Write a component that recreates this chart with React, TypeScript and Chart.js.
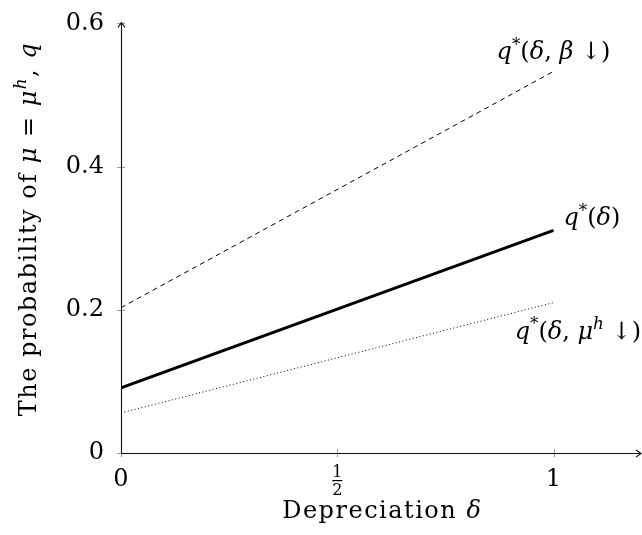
import React, { useEffect, useRef } from "react";
import { Chart, registerables } from "chart.js";
Chart.register(...registerables);

// ---- data ----
const deltaValues = [0, 1];
const qBetaDown = [0.203, 0.533];
const qBaseline = [0.091, 0.311];
const qMuDown = [0.056, 0.21];
const xTicks = [0, 0.5, 1];
const yTicks = [0, 0.2, 0.4, 0.6];
const yTickLabels = ["0", "0.2", "0.4", "0.6"];
const X_MAX = 1.2;
const Y_MAX = 0.6;

type Seg = { t: string; it?: boolean; sup?: boolean };
const labelBeta: Seg[] = [{ t: "q", it: true }, { t: "*", sup: true }, { t: "(" }, { t: "δ", it: true }, { t: ", " }, { t: "β", it: true }, { t: " ↓)" }];
const labelBase: Seg[] = [{ t: "q", it: true }, { t: "*", sup: true }, { t: "(" }, { t: "δ", it: true }, { t: ")" }];
const labelMu: Seg[] = [{ t: "q", it: true }, { t: "*", sup: true }, { t: "(" }, { t: "δ", it: true }, { t: ", " }, { t: "μ", it: true }, { t: "h", it: true, sup: true }, { t: " ↓)" }];
const xTitle: Seg[] = [{ t: "Depreciation " }, { t: "δ", it: true }];
const yTitle: Seg[] = [{ t: "The probability of " }, { t: "μ", it: true }, { t: " = " }, { t: "μ", it: true }, { t: "h", it: true, sup: true }, { t: ", " }, { t: "q", it: true }];

const FAMILY = '"DejaVu Serif", "Liberation Serif", serif';
const FS = 24;

function segFont(s: Seg, size: number) {
  const sz = s.sup ? size * 0.7 : size;
  return `${s.it ? "italic " : ""}${sz}px ${FAMILY}`;
}
function richWidth(ctx: CanvasRenderingContext2D, segs: Seg[], size: number) {
  let w = 0;
  for (const s of segs) {
    ctx.font = segFont(s, size);
    w += ctx.measureText(s.t).width;
  }
  return w;
}
function drawRich(ctx: CanvasRenderingContext2D, segs: Seg[], x: number, y: number, size: number, align: "left" | "center" | "right", spacing = 0) {
  (ctx as any).letterSpacing = `${spacing}px`;
  const w = richWidth(ctx, segs, size);
  let cx = align === "left" ? x : align === "center" ? x - w / 2 : x - w;
  ctx.textAlign = "left";
  ctx.textBaseline = "alphabetic";
  for (const s of segs) {
    ctx.font = segFont(s, size);
    ctx.fillText(s.t, cx, s.sup ? y - size * 0.4 : y);
    cx += ctx.measureText(s.t).width;
  }
  (ctx as any).letterSpacing = "0px";
}

const decorPlugin = {
  id: "decor",
  afterDraw(chart: any) {
    const { ctx, chartArea, scales } = chart;
    const { left, right, top, bottom } = chartArea;
    const x = scales.x, y = scales.y;
    ctx.save();
    // tick marks
    ctx.strokeStyle = "#9a9a9a";
    ctx.lineWidth = 1;
    for (const v of xTicks) {
      const px = Math.round(x.getPixelForValue(v)) + 0.5;
      ctx.beginPath(); ctx.moveTo(px, bottom - 4); ctx.lineTo(px, bottom + 4); ctx.stroke();
    }
    for (const v of yTicks) {
      const py = Math.round(y.getPixelForValue(v)) + 0.5;
      ctx.beginPath(); ctx.moveTo(left - 4, py); ctx.lineTo(left + 4, py); ctx.stroke();
    }
    // axes with arrows
    ctx.strokeStyle = "#111";
    ctx.lineWidth = 1.1;
    const ax = Math.round(left) + 0.5;
    const ay = Math.round(bottom) + 0.5;
    const yTip = top - 1;
    const xTip = right + 1;
    ctx.beginPath(); ctx.moveTo(ax, ay); ctx.lineTo(ax, yTip); ctx.stroke();
    ctx.beginPath(); ctx.moveTo(ax, ay); ctx.lineTo(xTip, ay); ctx.stroke();
    ctx.beginPath(); ctx.moveTo(ax - 3.5, yTip + 5); ctx.lineTo(ax, yTip); ctx.lineTo(ax + 3.5, yTip + 5); ctx.stroke();
    ctx.beginPath(); ctx.moveTo(xTip - 5, ay - 3.5); ctx.lineTo(xTip, ay); ctx.lineTo(xTip - 5, ay + 3.5); ctx.stroke();

    ctx.fillStyle = "#000";
    // fraction tick label 1/2
    const hx = x.getPixelForValue(0.5);
    ctx.font = `16px ${FAMILY}`;
    ctx.textAlign = "center";
    ctx.textBaseline = "alphabetic";
    ctx.fillText("1", hx, bottom + 24);
    ctx.fillRect(hx - 5, bottom + 27, 10, 1.2);
    ctx.fillText("2", hx, bottom + 42);

    // axis titles
    drawRich(ctx, xTitle, (x.getPixelForValue(0) + x.getPixelForValue(1)) / 2 + 45, bottom + 65, FS, "center", 1.5);
    ctx.save();
    ctx.translate(36, 229);
    ctx.rotate(-Math.PI / 2);
    drawRich(ctx, yTitle, 0, 0, FS, "center", 1.5);
    ctx.restore();

    // series labels
    const ex = x.getPixelForValue(deltaValues[1]);
    drawRich(ctx, labelBeta, ex, y.getPixelForValue(qBetaDown[1]) - 12, FS, "center");
    drawRich(ctx, labelBase, ex + 10, y.getPixelForValue(qBaseline[1]) - 5, FS, "left");
    drawRich(ctx, labelMu, 641, y.getPixelForValue(qMuDown[1]) + 36, FS, "right");
    ctx.restore();
  },
};

function toPts(ys: number[]) {
  return deltaValues.map((d, i) => ({ x: d, y: ys[i] }));
}

export default function App() {
  const ref = useRef<HTMLCanvasElement>(null);
  useEffect(() => {
    document.body.style.margin = "0";
    const chart = new Chart(ref.current!, {
      type: "line",
      data: {
        datasets: [
          { data: toPts(qBetaDown), borderColor: "#000", borderWidth: 1, borderDash: [5, 4], pointRadius: 0, fill: false },
          { data: toPts(qBaseline), borderColor: "#000", borderWidth: 2.8, pointRadius: 0, fill: false },
          { data: toPts(qMuDown), borderColor: "#000", borderWidth: 1, borderDash: [1, 2.5], pointRadius: 0, fill: false },
        ],
      },
      options: {
        responsive: false,
        animation: false,
        layout: { padding: { top: 22, right: 2, left: 0, bottom: 0 } },
        plugins: { legend: { display: false }, tooltip: { enabled: false } },
        scales: {
          x: {
            type: "linear",
            min: 0,
            max: X_MAX,
            grid: { display: false },
            border: { display: false },
            afterBuildTicks: (s: any) => { s.ticks = xTicks.map((v) => ({ value: v })); },
            afterFit: (s: any) => { s.height = 82; },
            ticks: {
              color: "#000",
              padding: 4,
              maxRotation: 0,
              autoSkip: false,
              font: { family: FAMILY, size: FS },
              callback: (v: any) => (v === 0.5 ? "" : String(v)),
            },
          },
          y: {
            type: "linear",
            min: 0,
            max: Y_MAX,
            grid: { display: false },
            border: { display: false },
            afterBuildTicks: (s: any) => { s.ticks = yTicks.map((v) => ({ value: v })); },
            afterFit: (s: any) => { s.width = 121; },
            ticks: {
              color: "#000",
              padding: 9,
              autoSkip: false,
              font: { family: FAMILY, size: FS },
              callback: (v: any) => yTickLabels[yTicks.indexOf(v)] ?? "",
            },
          },
        },
      },
      plugins: [decorPlugin],
    });
    return () => chart.destroy();
  }, []);
  return (
    <div style={{ width: 642, height: 535 }}>
      <canvas ref={ref} width={642} height={535} />
    </div>
  );
}
